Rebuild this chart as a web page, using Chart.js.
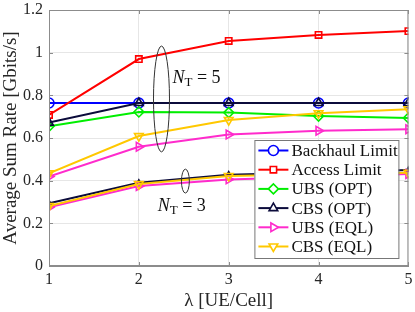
<!DOCTYPE html>
<html>
<head>
<meta charset="utf-8">
<script src="https://cdn.jsdelivr.net/npm/chart.js@4.4.1/dist/chart.umd.min.js"></script>
<style>
  html, body { margin: 0; padding: 0; background: #fff; }
  #wrap { width: 415px; height: 312px; }
</style>
</head>
<body>
<div id="wrap"><canvas id="c" width="415" height="312"></canvas></div>
<script>
// x values (lambda, UE per cell)
const lambda = [1, 2, 3, 4, 5];
const yTicks = [0, 0.2, 0.4, 0.6, 0.8, 1, 1.2];

// N_T = 5
const backhaul = [0.764, 0.764, 0.764, 0.764, 0.764];
const access   = [0.708, 0.970, 1.055, 1.083, 1.101];
const ubsOpt5  = [0.655, 0.722, 0.719, 0.703, 0.694];
const cbsOpt5  = [0.672, 0.764, 0.764, 0.764, 0.764];
const ubsEql5  = [0.419, 0.559, 0.616, 0.634, 0.641];
const cbsEql5  = [0.434, 0.609, 0.684, 0.716, 0.735];

// N_T = 3
const cbsOpt3 = [0.294, 0.390, 0.428, 0.438, 0.450];
const ubsEql3 = [0.275, 0.375, 0.406, 0.418, 0.431];
const cbsEql3 = [0.281, 0.384, 0.422, 0.430, 0.437];

const SERIF = '"Liberation Serif", "DejaVu Serif", serif';

const styles = {
  backhaul: { label: 'Backhaul Limit', color: '#0000ff', shape: 'circle', rot: 0 },
  access:   { label: 'Access Limit',   color: '#ff0000', shape: 'rect', rot: 0 },
  ubsOpt:   { label: 'UBS (OPT)',      color: '#00ee00', shape: 'rectRot', rot: 0 },
  cbsOpt:   { label: 'CBS (OPT)',      color: '#0b0b3b', shape: 'triangle', rot: 0 },
  ubsEql:   { label: 'UBS (EQL)',      color: '#ff2bcc', shape: 'triangle', rot: 90 },
  cbsEql:   { label: 'CBS (EQL)',      color: '#ffc800', shape: 'triangle', rot: 180 }
};

function series(key, values, order, extra) {
  const s = styles[key];
  return Object.assign({
    label: s.label,
    data: lambda.map((x, i) => ({ x: x, y: values[i] })),
    borderColor: s.color,
    backgroundColor: 'rgba(0,0,0,0)',
    pointBorderColor: s.color,
    pointBackgroundColor: 'rgba(0,0,0,0)',
    pointStyle: s.shape,
    pointRotation: s.rot,
    pointRadius: s.shape === 'rect' ? 4.5 : 5,
    pointBorderWidth: 1.6,
    borderWidth: 2,
    order: order,
    tension: 0
  }, extra || {});
}

// legend, ellipses, N_T labels, inner ticks, box
const decor = {
  id: 'decor',
  afterDatasetsDraw(chart) {
    const ctx = chart.ctx;
    const a = chart.chartArea;
    const xs = chart.scales.x, ys = chart.scales.y;
    ctx.save();

    // box + inward ticks
    ctx.strokeStyle = '#8c8c8c';
    ctx.lineWidth = 1;
    ctx.strokeRect(a.left + 0.5, a.top + 0.5, a.right - a.left - 1, a.bottom - a.top - 1);
    ctx.beginPath();
    lambda.forEach(v => {
      const px = Math.round(xs.getPixelForValue(v)) + 0.5;
      ctx.moveTo(px, a.bottom); ctx.lineTo(px, a.bottom - 4);
      ctx.moveTo(px, a.top); ctx.lineTo(px, a.top + 4);
    });
    yTicks.forEach(v => {
      const py = Math.round(ys.getPixelForValue(v)) + 0.5;
      ctx.moveTo(a.left, py); ctx.lineTo(a.left + 4, py);
      ctx.moveTo(a.right, py); ctx.lineTo(a.right - 4, py);
    });
    ctx.stroke();

    // ellipses
    function ellipse(cx, cy, rx, ry) {
      const px = xs.getPixelForValue(cx), py = ys.getPixelForValue(cy);
      const w = Math.abs(xs.getPixelForValue(cx + rx) - px);
      const h = Math.abs(ys.getPixelForValue(cy + ry) - py);
      ctx.beginPath();
      ctx.ellipse(px, py, w, h, 0, 0, Math.PI * 2);
      ctx.strokeStyle = '#333';
      ctx.lineWidth = 1;
      ctx.stroke();
    }
    ellipse(2.252, 0.783, 0.089, 0.248);
    ellipse(2.518, 0.398, 0.044, 0.056);

    // N_T labels
    function ntLabel(x, y, n) {
      let px = xs.getPixelForValue(x), py = ys.getPixelForValue(y);
      ctx.fillStyle = '#111';
      ctx.textBaseline = 'alphabetic';
      ctx.textAlign = 'left';
      ctx.font = 'italic 18px ' + SERIF;
      ctx.fillText('N', px, py);
      px += ctx.measureText('N').width;
      ctx.font = '13px ' + SERIF;
      ctx.fillText('T', px, py + 3);
      px += ctx.measureText('T').width;
      ctx.font = '18px ' + SERIF;
      ctx.fillText(' = ' + n, px, py);
    }
    ntLabel(2.374, 0.858, 5);
    ntLabel(2.21, 0.258, 3);

    // legend
    const keys = ['backhaul', 'access', 'ubsOpt', 'cbsOpt', 'ubsEql', 'cbsEql'];
    const lw = 144, lh = 118;
    const lx = a.right - 10 - lw, ly = a.bottom - 8 - lh;
    ctx.fillStyle = '#fff';
    ctx.fillRect(lx, ly, lw, lh);
    ctx.strokeStyle = '#777';
    ctx.lineWidth = 1;
    ctx.strokeRect(lx + 0.5, ly + 0.5, lw, lh);
    keys.forEach((k, i) => {
      const s = styles[k];
      const cy = ly + 10.5 + i * 19.2;
      ctx.strokeStyle = s.color;
      ctx.lineWidth = 2;
      ctx.beginPath();
      ctx.moveTo(lx + 4, cy); ctx.lineTo(lx + 34, cy);
      ctx.stroke();
      ctx.lineWidth = 1.6;
      ctx.fillStyle = '#fff';
      Chart.helpers.drawPoint(ctx, {
        pointStyle: s.shape, rotation: s.rot,
        radius: s.shape === 'rect' ? 4.5 : 5, borderWidth: 1.6
      }, lx + 19, cy);
      ctx.fillStyle = '#111';
      ctx.font = '17px ' + SERIF;
      ctx.textBaseline = 'middle';
      ctx.fillText(s.label, lx + 37, cy + 1);
    });
    ctx.restore();
  }
};

new Chart(document.getElementById('c'), {
  type: 'line',
  data: {
    datasets: [
      series('backhaul', backhaul, 6),
      series('access', access, 5),
      series('ubsOpt', ubsOpt5, 4),
      series('cbsOpt', cbsOpt5, 3),
      series('ubsEql', ubsEql5, 2),
      series('cbsEql', cbsEql5, 1),
      series('cbsOpt', cbsOpt3, 3, { pointRadius: 3, pointBackgroundColor: styles.cbsOpt.color }),
      series('ubsEql', ubsEql3, 2),
      series('cbsEql', cbsEql3, 1)
    ]
  },
  options: {
    responsive: false,
    animation: false,
    layout: { padding: { left: 0, right: 5, top: 10, bottom: 0 } },
    plugins: { legend: { display: false }, tooltip: { enabled: false } },
    scales: {
      x: {
        type: 'linear', min: 1, max: 5,
        afterFit: s => { s.height = 46; s.paddingRight = 0; s.paddingLeft = 0; },
        ticks: { stepSize: 1, padding: 4, color: '#262626', font: { family: SERIF, size: 16 } },
        grid: { color: '#e6e6e6', drawTicks: false },
        border: { color: '#8c8c8c' },
        title: { display: true, text: 'λ [UE/Cell]', color: '#262626',
                 font: { family: SERIF, size: 19 }, padding: { top: 0, bottom: 0 } }
      },
      y: {
        min: 0, max: 1.2,
        afterFit: s => { s.width = 49; s.paddingTop = 0; s.paddingBottom = 0; },
        afterBuildTicks: s => { s.ticks = yTicks.map(v => ({ value: v })); },
        ticks: { padding: 6, color: '#262626', font: { family: SERIF, size: 16 },
                 callback: v => String(Math.round(v * 10) / 10) },
        grid: { color: '#e6e6e6', drawTicks: false },
        border: { color: '#8c8c8c' },
        title: { display: true, text: 'Average Sum Rate [Gbits/s]', color: '#262626',
                 font: { family: SERIF, size: 19 }, padding: { top: 0, bottom: 0 } }
      }
    }
  },
  plugins: [decor]
});
</script>
</body>
</html>
